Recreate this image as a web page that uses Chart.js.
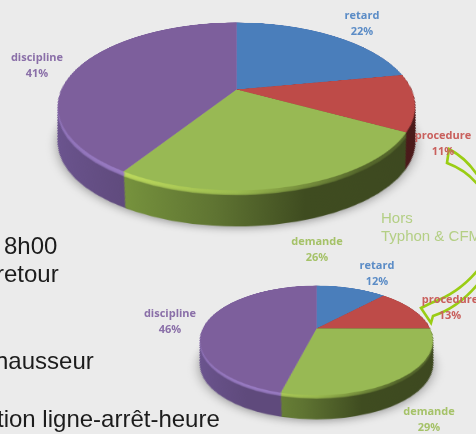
<!DOCTYPE html>
<html>
<head>
<meta charset="utf-8">
<script src="https://cdn.jsdelivr.net/npm/chart.js@4"></script>
<style>
html,body{margin:0;padding:0;background:#ebebeb;overflow:hidden}
#page{position:absolute;left:0;top:0;width:476px;height:434px;overflow:hidden;filter:blur(.7px)}
canvas{position:absolute;display:block}
.lbl{position:absolute;font:bold 11px "Open Sans",sans-serif;line-height:16px;text-align:center;white-space:pre;transform:translateX(-50%)}
.txt{position:absolute;font:24px "Liberation Sans",sans-serif;color:#1c1c1c;white-space:nowrap}
.note{position:absolute;font:15px "Liberation Sans",sans-serif;color:#b4cf85;white-space:nowrap}
svg{position:absolute;left:0;top:0}
</style>
</head>
<body>
<div id="page">
	<canvas id="pieTop"></canvas>
	<canvas id="pieBottom"></canvas>
	<svg width="476" height="434">
		<path d="M449 149 Q466 158 478 176 L478 185 Q466 170 447 163 Z" fill="none" stroke="#9acd14" stroke-width="2.6"/>
		<path d="M421 308 L431 303 Q458 294 478 270 L478 284 Q458 308 433 316 L431 323 Z" fill="none" stroke="#9acd14" stroke-width="2.6"/>
	</svg>
	<div id="labels"></div>
</div>
<script>
var categories = ["retard","procedure","demande","discipline"]
var valuesTop = [22,11,26,41]
var valuesBottom = [12,13,29,46]
var colors = ["#4a7ebb","#be4b48","#98b954","#7d5f9c"]
var labelColors = ["#5b8cc6","#c9605d","#a5c268","#8a6fa8"]

var textLines = [
	["8h00",4,232],
	["retour",-4,260],
	["hausseur",-5,347],
	["tion ligne-arrêt-heure",-3,405]
]
var noteLines = [["Hors",381,209],["Typhon & CFM",381,227]]

// wall shades from left to right of the pie, [pos,color]
var wallStops = [
	[[0,"#6e5a8c"]],
	[[0,"#5a2020"],[1,"#4a1a1a"]],
	[[.18,"#7c9a40"],[.45,"#5f7432"],[.66,"#3f4c20"],[1,"#3d4820"]],
	[[0,"#6c5590"],[.25,"#5f4a7c"]]
]
var rimStops = [
	null,
	null,
	[[.18,"#c4e060"],[.5,"#9cbc50"],[.8,"#56682c"]],
	[[0,"#8f72b8"],[.25,"#9a7cc4"]]
]

function drawWall(chart,view){
	var ctx = chart.ctx
	var arcs = chart.getDatasetMeta(0).data
	var cx = arcs[0].x, cy = arcs[0].y, R = arcs[0].outerRadius
	var rad = view.tilt*Math.PI/180
	var a = R*Math.cos(rad), c = R*Math.sin(rad)/view.dist
	var yTop = -a/(1+c), yBot = a/(1-c)
	function back(v){ return v/(a+c*v) }

	function layer(s,stops,alpha){
		var y1 = back(yTop+s), y2 = back(yBot+s)
		var m = (y1+y2)/2, h = (y2-y1)/2
		var v0 = a*m/(1-c*m)-s
		var v = back(v0)
		var w = Math.sqrt(1-v*v)*(1-c*m)/(1-c*v)
		ctx.save()
		ctx.translate(cx,cy+m*R)
		ctx.scale(w,h)
		ctx.translate(-cx,-cy)
		ctx.globalAlpha = alpha
		arcs.forEach(function(arc,i){
			if(!stops[i]) return
			var g = ctx.createLinearGradient(cx-R,0,cx+R,0)
			stops[i].forEach(function(st){ g.addColorStop(st[0],st[1]) })
			ctx.fillStyle = g
			ctx.beginPath()
			ctx.moveTo(cx,cy)
			ctx.arc(cx,cy,R,arc.startAngle,arc.endAngle)
			ctx.closePath()
			ctx.fill()
		})
		ctx.restore()
	}

	// soft shadow under the pie
	ctx.save()
	ctx.shadowColor = "rgba(0,0,0,.35)"
	ctx.shadowBlur = 10
	ctx.shadowOffsetY = 2
	layer(view.depth+1,wallStops,1)
	ctx.restore()

	for(var s=view.depth;s>=0;s-=.5){
		layer(s,wallStops,1)
	}
	// lighter rim just under the top face
	for(var r=view.rim;r>=0;r-=.5){
		layer(r,rimStops,.45)
	}
}

function makePie(id,values,view){
	var el = document.getElementById(id)
	var size = Math.round(view.R*3)
	el.width = size
	el.height = size
	el.style.left = (view.x-size/2)+"px"
	el.style.top = (view.y-size/2)+"px"
	el.style.transformOrigin = "50% 50%"
	el.style.transform = "perspective("+view.dist+"px) rotateX("+view.tilt+"deg)"
	return new Chart(el.getContext("2d"),{
		type:"pie",
		data:{
			labels:categories,
			datasets:[{data:values,backgroundColor:colors,borderWidth:0,radius:view.R}]
		},
		options:{
			responsive:false,
			animation:false,
			events:[],
			plugins:{legend:{display:false},tooltip:{enabled:false}}
		},
		plugins:[{
			id:"wall",
			beforeDatasetsDraw:function(chart){ drawWall(chart,view) }
		}]
	})
}

makePie("pieTop",valuesTop,{x:236,y:89,R:175,tilt:62.6,dist:770,depth:35,rim:5})
makePie("pieBottom",valuesBottom,{x:316,y:328,R:113.7,tilt:62.6,dist:463,depth:23,rim:3.5})

// data labels
var labelBox = document.getElementById("labels")
function addLabels(values,places){
	values.forEach(function(v,i){
		var d = document.createElement("div")
		d.className = "lbl"
		d.style.left = places[i][0]+"px"
		d.style.top = places[i][1]+"px"
		d.style.color = labelColors[i]
		d.textContent = categories[i]+"\n"+v+"%"
		labelBox.appendChild(d)
	})
}
addLabels(valuesTop,[[362,7],[443,127],[317,233],[37,49]])
addLabels(valuesBottom,[[377,257],[450,291],[429,403],[170,305]])

textLines.forEach(function(t){
	var d = document.createElement("div")
	d.className = "txt"
	d.style.left = t[1]+"px"
	d.style.top = t[2]+"px"
	d.textContent = t[0]
	labelBox.appendChild(d)
})
noteLines.forEach(function(t){
	var d = document.createElement("div")
	d.className = "note"
	d.style.left = t[1]+"px"
	d.style.top = t[2]+"px"
	d.textContent = t[0]
	labelBox.appendChild(d)
})
</script>
</body>
</html>
